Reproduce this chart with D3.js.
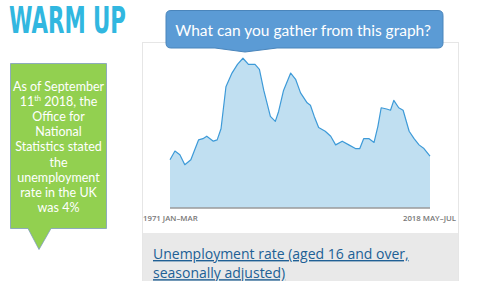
<!DOCTYPE html>
<html>
<head>
<meta charset="utf-8">
<script src="https://cdn.jsdelivr.net/npm/d3@7"></script>
<style>
  html, body { margin: 0; padding: 0; background: #fff; }
  svg { display: block; }
</style>
</head>
<body>
<div id="chart"></div>
<script>
// unemployment rate (%), by (decimal) year
const years = [1971.0, 1971.9, 1972.8, 1973.7, 1974.8, 1976.2, 1977.0, 1977.7, 1978.9, 1979.6,
  1980.3, 1981.2, 1982.3, 1983.3, 1984.3, 1985.3, 1986.5, 1987.3, 1988.1, 1989.3,
  1990.2, 1990.8, 1991.7, 1993.0, 1993.9, 1994.8, 1996.0, 1996.6, 1997.3, 1998.1,
  1999.3, 2000.3, 2001.2, 2002.4, 2003.6, 2004.8, 2005.6, 2006.3, 2007.3, 2008.2,
  2008.9, 2009.5, 2010.5, 2011.2, 2011.8, 2012.7, 2013.5, 2014.6, 2015.5, 2016.4,
  2017.3, 2018.4];
const rates = [3.7, 4.4, 4.1, 3.3, 3.7, 5.3, 5.4, 5.6, 5.2, 5.3,
  6.2, 9.6, 10.7, 11.4, 11.9, 11.4, 11.4, 11.0, 9.3, 7.2,
  6.8, 7.6, 9.3, 10.7, 10.2, 9.1, 8.3, 8.1, 7.2, 6.3,
  6.0, 5.6, 4.9, 5.2, 4.9, 4.6, 4.6, 5.4, 5.4, 5.1,
  6.4, 7.9, 7.8, 7.7, 8.5, 7.9, 7.7, 6.0, 5.4, 4.9,
  4.6, 4.0];
const axisLabels = ["1971 JAN\u2013MAR", "2018 MAY\u2013JUL"];
const calloutLines = ["As of September", "11|th| 2018, the", "Office for", "National",
  "Statistics stated", "the", "unemployment", "rate in the UK", "was 4%"];
const question = "What can you gather from this graph?";
const titleLines = ["Unemployment rate (aged 16 and over,", "seasonally adjusted)"];

const W = 500, H = 281;
const svg = d3.select("#chart").append("svg").attr("width", W).attr("height", H);

// heading
svg.append("text")
  .attr("x", 9).attr("y", 33)
  .attr("font-family", "'Liberation Sans Narrow', 'DejaVu Sans Condensed', sans-serif")
  .attr("font-weight", "bold")
  .attr("font-size", 37)
  .attr("textLength", 117).attr("lengthAdjust", "spacingAndGlyphs")
  .attr("fill", "#31b7e0")
  .text("WARM UP");

// chart panel
const panel = svg.append("g");
panel.append("rect")
  .attr("x", 142.5).attr("y", 42.5).attr("width", 316).attr("height", 250)
  .attr("fill", "#fff").attr("stroke", "#e6e6e6");
panel.append("rect")
  .attr("x", 143).attr("y", 233).attr("width", 315).attr("height", 50)
  .attr("fill", "#e9e9e9");

const x = d3.scaleLinear().domain([d3.min(years), d3.max(years)]).range([170, 430]);
const y = d3.scaleLinear().domain([-0.2, 12]).range([208, 57]);
const data = years.map((yr, i) => ({yr: yr, v: rates[i]}));

const area = d3.area().x(d => x(d.yr)).y0(y(-0.2)).y1(d => y(d.v));
const line = d3.line().x(d => x(d.yr)).y(d => y(d.v));

panel.append("path").datum(data).attr("d", area).attr("fill", "#c0dff1");
panel.append("path").datum(data).attr("d", line)
  .attr("fill", "none").attr("stroke", "#3d9ad8").attr("stroke-width", 1.2)
  .attr("stroke-linejoin", "round");
panel.append("line")
  .attr("x1", x.range()[0]).attr("x2", x.range()[1])
  .attr("y1", y(-0.2)).attr("y2", y(-0.2))
  .attr("stroke", "#9a9a9a").attr("stroke-width", 1.5);

panel.selectAll("text.axis").data(axisLabels).enter().append("text")
  .attr("class", "axis")
  .attr("x", (d, i) => i === 0 ? 143 : 456)
  .attr("y", 221)
  .attr("text-anchor", (d, i) => i === 0 ? "start" : "end")
  .attr("font-family", "'Open Sans', sans-serif")
  .attr("font-weight", 600)
  .attr("font-size", 7.8)
  .attr("fill", "#777")
  .text(d => d);

// series title, two lines
panel.selectAll("text.title").data(titleLines).enter().append("text")
  .attr("class", "title")
  .attr("x", 153)
  .attr("y", (d, i) => 259 + i * 19.2)
  .attr("font-family", "'Open Sans', sans-serif")
  .attr("font-size", 14)
  .attr("fill", "#206095")
  .attr("text-decoration", "underline")
  .text(d => d);

// question bubble
const bubble = svg.append("g");
bubble.append("path")
  .attr("d", "M171,10.5 H438 Q443,10.5 443,15.5 V43 Q443,48 438,48 H277 L245,52 L215,48 H171 Q166,48 166,43 V15.5 Q166,10.5 171,10.5 Z")
  .attr("fill", "#5b9bd5").attr("stroke", "#4a85bb").attr("stroke-width", 1);
bubble.append("text")
  .attr("x", 303).attr("y", 35.5)
  .attr("text-anchor", "middle")
  .attr("font-family", "Lato, sans-serif")
  .attr("font-size", 15.5)
  .attr("fill", "#fff")
  .text(question);

// green callout
const callout = svg.append("g");
callout.append("path")
  .attr("d", "M10.5,63.5 H106.5 V228.5 H51 L39,249.5 L28,228.5 H10.5 Z")
  .attr("fill", "#92d050").attr("stroke", "#7f9cc0").attr("stroke-width", 0.8);
const ct = callout.selectAll("text").data(calloutLines).enter().append("text")
  .attr("x", 58.5)
  .attr("y", (d, i) => 91 + i * 15.1)
  .attr("text-anchor", "middle")
  .attr("font-family", "Lato, sans-serif")
  .attr("font-size", 12.5)
  .attr("fill", "#fff");
ct.each(function(d) {
  const parts = d.split("|");
  const t = d3.select(this);
  parts.forEach((p, k) => {
    const ts = t.append("tspan").text(p);
    if (k === 1) ts.attr("font-size", 7.5).attr("dy", -5);
    if (k === 2) ts.attr("dy", 5);
  });
});
</script>
</body>
</html>
